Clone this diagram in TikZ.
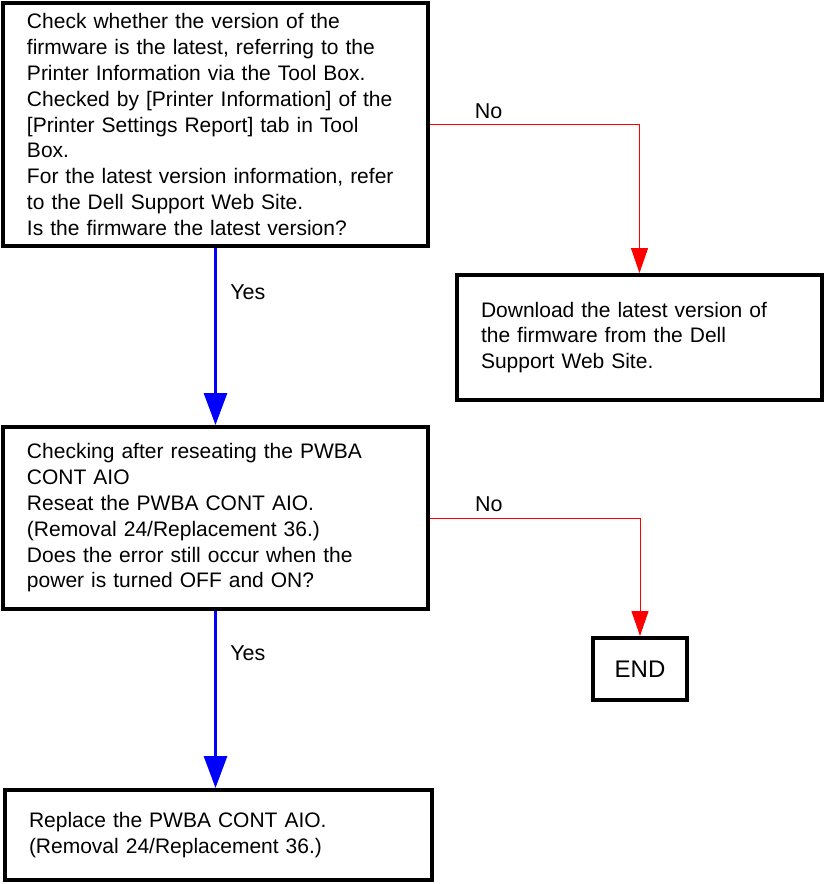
\documentclass[tikz,border=0pt]{standalone}
\usepackage{fontspec}
\setmainfont{Liberation Sans}
\usetikzlibrary{arrows.meta}

\begin{document}
\begin{tikzpicture}[x=1pt, y=-1pt,
	box/.style={draw, line width=4pt, align=left, inner xsep=24pt, inner ysep=0pt,
		font=\fontsize{21}{25.8}\selectfont},
	nopath/.style={red, line width=1pt, -{Triangle[length=25pt, width=17pt]}},
	yespath/.style={blue, line width=3pt, -{Triangle[length=32pt, width=23pt]}},
	lbl/.style={black, font=\fontsize{21.5}{25.8}\selectfont}]
	\useasboundingbox (0,0) rectangle (824,884);
	\node[box, text width=377pt, minimum height=243pt] (check) at (215.5,124.5)
		{Check whether the version of the\\firmware is the latest, referring to the\\Printer Information via the Tool Box.\\Checked by [Printer Information] of the\\{[Printer Settings Report]} tab in Tool\\Box.\\For the latest version information, refer\\to the Dell Support Web Site.\\Is the firmware the latest version?};
	\node[box, text width=317pt, minimum height=125pt] (download) at (639.5,337.5)
		{Download the latest version of\\the firmware from the Dell\\Support Web Site.};
	\node[box, text width=377pt, minimum height=182pt] (reseat) at (215.5,518)
		{Checking after reseating the PWBA\\CONT AIO\\Reseat the PWBA CONT AIO.\\(Removal 24/Replacement 36.)\\Does the error still occur when the\\power is turned OFF and ON?};
	\node[box, align=center, inner xsep=0pt, minimum width=94pt, minimum height=62pt,
		font=\fontsize{24}{28}\selectfont] (end) at (640,669) {END};
	\node[box, text width=379pt, minimum height=90pt] (replace) at (218.5,835)
		{Replace the PWBA CONT AIO.\\(Removal 24/Replacement 36.)};
	% No branches
	\draw[nopath] (check.east) -| node[lbl, pos=0.14, above=2pt]{No} (download.north);
	\draw[nopath] (reseat.east) -| node[lbl, pos=0.14, above=2pt]{No} (end.north);
	% Yes branches
	\draw[yespath] (check.south) -- node[lbl, pos=0.25, right=10pt]{Yes} (check.south |- reseat.north);
	\draw[yespath] (reseat.south) -- node[lbl, pos=0.24, right=10pt]{Yes} (reseat.south |- replace.north);
\end{tikzpicture}
\end{document}
